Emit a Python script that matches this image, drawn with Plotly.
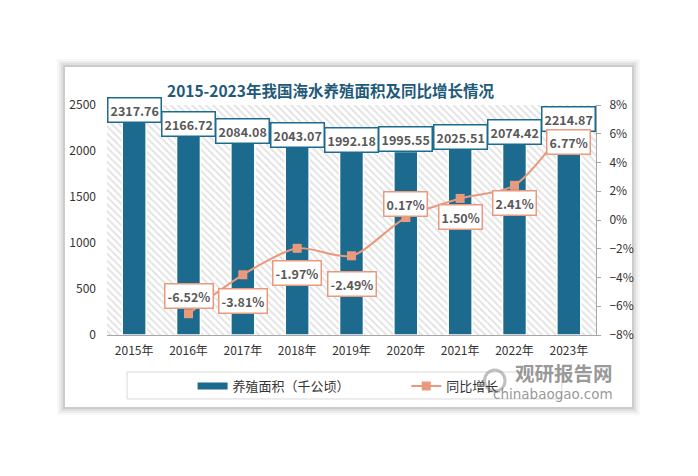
import plotly.graph_objects as go

years = ["2015年", "2016年", "2017年", "2018年", "2019年", "2020年", "2021年", "2022年", "2023年"]
area = [2317.76, 2166.72, 2084.08, 2043.07, 1992.18, 1995.55, 2025.51, 2074.42, 2214.87]
growth_years = ["2016年", "2017年", "2018年", "2019年", "2020年", "2021年", "2022年", "2023年"]
growth = [-6.52, -3.81, -1.97, -2.49, 0.17, 1.50, 2.41, 6.77]
growth_label_shift = [18, -26, -25, -28, 14, -19, -18, -19]

title = "2015-2023年我国海水养殖面积及同比增长情况"
bar_name = "养殖面积（千公顷）"
line_name = "同比增长"
left_range = [0, 2500]
right_range = [-8, 8]

BAR_COLOR = "#1d6a8f"
LINE_COLOR = "#e99a7c"
FONT = "Noto Sans CJK SC, sans-serif"

fig = go.Figure()

# hatched plot background
fig.add_trace(go.Bar(
    x=years, y=[left_range[1]] * len(years), width=1,
    marker=dict(color="white", line=dict(width=0),
                pattern=dict(shape="\\", fgcolor="#c4c4c4", bgcolor="white", size=5, solidity=0.35)),
    hoverinfo="skip", showlegend=False, yaxis="y",
))

fig.add_trace(go.Bar(
    x=years, y=area, name=bar_name, width=0.44,
    marker=dict(color=BAR_COLOR, line=dict(color="white", width=1.5)),
    yaxis="y", showlegend=False,
))
# legend-only entry for the bars (wide flat swatch like the reference)
fig.add_trace(go.Scatter(
    x=[None], y=[None], name=bar_name, mode="lines",
    line=dict(color=BAR_COLOR, width=7), yaxis="y", legend="legend",
))

fig.add_trace(go.Scatter(
    x=growth_years, y=growth, name=line_name, mode="lines+markers",
    line=dict(color=LINE_COLOR, width=2, shape="spline", smoothing=0.8),
    marker=dict(symbol="square", size=9, color=LINE_COLOR),
    yaxis="y2", legend="legend2",
))

annotations = []
for x, v in zip(years, area):
    annotations.append(dict(
        x=x, y=v, xref="x", yref="y", text=f"<b>{v:.2f}</b>", showarrow=False,
        yanchor="middle", yshift=12, font=dict(size=12.5, color="#595959", family=FONT),
        bgcolor="white", bordercolor=BAR_COLOR, borderwidth=1.5, borderpad=2,
    ))
for x, v, s in zip(growth_years, growth, growth_label_shift):
    annotations.append(dict(
        x=x, y=v, xref="x", yref="y2", text=f"<b>{v:.2f}%</b>", showarrow=False,
        yanchor="middle", yshift=s, font=dict(size=12.5, color="#595959", family=FONT),
        bgcolor="white", bordercolor=LINE_COLOR, borderwidth=1.5, borderpad=2,
    ))

# title
annotations.append(dict(
    x=0.458, y=1.065, xref="paper", yref="paper", text=f"<b>{title}</b>", showarrow=False,
    xanchor="center", yanchor="middle", font=dict(size=15.5, color="#1f5a7a", family=FONT),
))
# watermark
annotations.append(dict(
    x=1.039, y=-0.162, xref="paper", yref="paper", text="<b>观研报告网</b>", showarrow=False,
    xanchor="right", yanchor="middle", font=dict(size=19.5, color="rgba(125,125,125,0.8)", family=FONT),
))
annotations.append(dict(
    x=1.039, y=-0.255, xref="paper", yref="paper", text="chinabaogao.com", showarrow=False,
    xanchor="right", yanchor="middle", font=dict(size=13.5, color="rgba(125,125,125,0.8)", family="DejaVu Sans"),
))

shapes = []
# card shadow
for i, op in enumerate([0.03, 0.045, 0.06, 0.08]):
    d = (4 - i) * 2.0
    shapes.append(dict(type="rect", xref="paper", yref="paper", layer="below",
                       x0=-0.0859 - d / 489, x1=1.0736 + d / 489,
                       y0=-0.313 - d / 230, y1=1.165 + d / 230,
                       fillcolor=f"rgba(0,0,0,{op})", line=dict(width=0)))
shapes.append(dict(type="rect", xref="paper", yref="paper", layer="below",
                   x0=-0.0859, x1=1.0736, y0=-0.313, y1=1.165,
                   fillcolor="white", line=dict(width=0)))
# legend frame
shapes.append(dict(type="rect", xref="paper", yref="paper", layer="above",
                   x0=0.041, x1=0.930, y0=-0.278, y1=-0.161,
                   line=dict(color="#d9d9d9", width=1), fillcolor="rgba(0,0,0,0)"))
# watermark logo
shapes.append(dict(type="circle", xref="paper", yref="paper", layer="above",
                   x0=0.772, x1=0.814, y0=-0.245, y1=-0.152,
                   line=dict(color="rgba(150,150,150,0.6)", width=3), fillcolor="rgba(0,0,0,0)"))

legend_common = dict(orientation="h", xanchor="left", yanchor="middle", y=-0.222,
                     bgcolor="rgba(0,0,0,0)", borderwidth=0,
                     font=dict(size=13, color="#333333", family=FONT))

fig.update_layout(
    width=690, height=468,
    margin=dict(l=99, r=102, t=97, b=141, autoexpand=False),
    paper_bgcolor="white", plot_bgcolor="rgba(0,0,0,0)",
    font=dict(family=FONT, size=12, color="#333333"),
    barmode="overlay",
    showlegend=True,
    legend=dict(x=0.175, **legend_common),
    legend2=dict(x=0.612, **legend_common),
    xaxis=dict(type="category", categoryorder="array", categoryarray=years,
               range=[-0.5, len(years) - 0.5], showgrid=False, showline=True,
               linecolor="#a6a6a6", linewidth=1, ticks="", ticklabelstandoff=5,
               tickfont=dict(size=12, color="#333333")),
    yaxis=dict(range=left_range, dtick=500, showgrid=False, zeroline=False, showline=False,
               ticks="", ticklabelstandoff=10, tickfont=dict(size=12, color="#333333")),
    yaxis2=dict(range=right_range, dtick=2, ticksuffix="%", overlaying="y", side="right",
                showgrid=False, zeroline=False, showline=True, linecolor="#a6a6a6", linewidth=1,
                ticks="outside", ticklen=4, tickcolor="#a6a6a6", ticklabelstandoff=6,
                tickfont=dict(size=12, color="#333333")),
    annotations=annotations, shapes=shapes,
)

fig.write_html("out.html")
